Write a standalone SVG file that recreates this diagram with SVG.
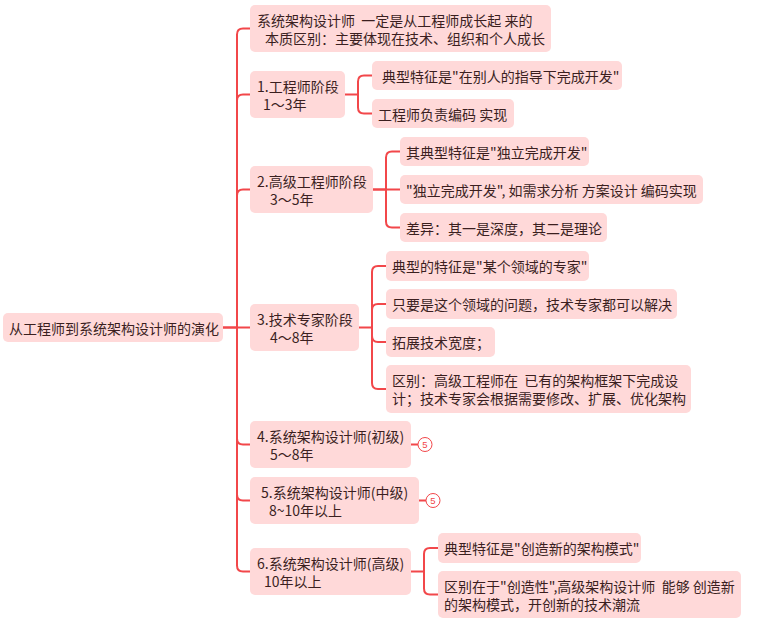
<svg xmlns="http://www.w3.org/2000/svg" width="758" height="625" viewBox="0 0 758 625">
<style>
.box{fill:#ffd9d9;}
.t{font-family:"Noto Sans CJK SC","Liberation Sans",sans-serif;font-size:14px;fill:#3b1f1f;dominant-baseline:central;white-space:pre;}
.c{fill:none;stroke:#f2474a;stroke-width:2;stroke-linecap:round;}
.badge{fill:#fff;stroke:#f2474a;stroke-width:1;}
.bt{font-family:"Liberation Sans",sans-serif;font-size:9.5px;fill:#f2474a;text-anchor:middle;dominant-baseline:central;}
</style>
<rect width="758" height="625" fill="#fff"/>
<g id="connectors">
<path class="c" d="M223 327.5 H237 V34.5 Q237 28.5 243 28.5 H250"/>
<path class="c" d="M237 327.5 V100.5 Q237 94.5 243 94.5 H250"/>
<path class="c" d="M237 327.5 V195.5 Q237 189.5 243 189.5 H250"/>
<path class="c" d="M223 327.5 H250"/>
<path class="c" d="M237 327.5 V438.5 Q237 444.5 243 444.5 H250"/>
<path class="c" d="M237 327.5 V494.5 Q237 500.5 243 500.5 H250"/>
<path class="c" d="M237 327.5 V565.5 Q237 571.5 243 571.5 H250"/>
<path class="c" d="M345 94.5 H358 V81.5 Q358 75.5 364 75.5 H372"/>
<path class="c" d="M358 94.5 V107.5 Q358 113.5 364 113.5 H372"/>
<path class="c" d="M373 189.5 H386 V157.5 Q386 151.5 392 151.5 H400"/>
<path class="c" d="M373 189.5 H400"/>
<path class="c" d="M386 189.5 V221.5 Q386 227.5 392 227.5 H400"/>
<path class="c" d="M359 327.5 H372 V272 Q372 266 378 266 H386"/>
<path class="c" d="M372 327.5 V310 Q372 304 378 304 H386"/>
<path class="c" d="M372 327.5 V336 Q372 342 378 342 H386"/>
<path class="c" d="M372 327.5 V383 Q372 389 378 389 H386"/>
<path class="c" d="M411 571.5 H424 V554 Q424 548 430 548 H438"/>
<path class="c" d="M424 571.5 V588.5 Q424 594.5 430 594.5 H438"/>
<path class="c" d="M411 444.5 H418"/>
<path class="c" d="M419 500.5 H426"/>
</g>
<g id="root"><rect class="box" x="3" y="313" width="220" height="29" rx="5"/><text class="t" x="9" y="327.5">从工程师到系统架构设计师的演化</text></g>
<g id="b0"><rect class="box" x="250" y="5" width="301" height="47" rx="5"/><text class="t" xml:space="preserve"><tspan x="257" y="19.5">系统架构设计师  一定是从工程师成长起 来的</tspan><tspan x="265" y="37.5">本质区别：主要体现在技术、组织和个人成长</tspan></text></g>
<g id="b1"><rect class="box" x="250" y="71" width="95" height="47" rx="5"/><text class="t"><tspan x="257" y="85.5">1.工程师阶段</tspan><tspan x="263" y="103.5">1～3年</tspan></text></g>
<g id="c1a"><rect class="box" x="372" y="61" width="250" height="29" rx="5"/><text class="t" x="382" y="75.5">典型特征是"在别人的指导下完成开发"</text></g>
<g id="c1b"><rect class="box" x="372" y="99" width="142" height="29" rx="5"/><text class="t" x="378" y="113.5">工程师负责编码 实现</text></g>
<g id="b2"><rect class="box" x="250" y="166" width="123" height="47" rx="5"/><text class="t"><tspan x="257" y="180.5">2.高级工程师阶段</tspan><tspan x="270" y="198.5">3～5年</tspan></text></g>
<g id="c2a"><rect class="box" x="400" y="137" width="189" height="29" rx="5"/><text class="t" x="406" y="151.5">其典型特征是"独立完成开发"</text></g>
<g id="c2b"><rect class="box" x="400" y="175" width="303" height="29" rx="5"/><text class="t" x="406" y="189.5">"独立完成开发", 如需求分析 方案设计 编码实现</text></g>
<g id="c2c"><rect class="box" x="400" y="213" width="207" height="29" rx="5"/><text class="t" x="406" y="227.5">差异：其一是深度，其二是理论</text></g>
<g id="b3"><rect class="box" x="250" y="304" width="109" height="47" rx="5"/><text class="t"><tspan x="257" y="318.5">3.技术专家阶段</tspan><tspan x="270" y="336.5">4～8年</tspan></text></g>
<g id="c3a"><rect class="box" x="386" y="251" width="203" height="30" rx="5"/><text class="t" x="392" y="266">典型的特征是"某个领域的专家"</text></g>
<g id="c3b"><rect class="box" x="386" y="289" width="291" height="30" rx="5"/><text class="t" x="392" y="304">只要是这个领域的问题，技术专家都可以解决</text></g>
<g id="c3c"><rect class="box" x="386" y="327" width="109" height="30" rx="5"/><text class="t" x="392" y="342">拓展技术宽度；</text></g>
<g id="c3d"><rect class="box" x="386" y="365" width="305" height="48" rx="5"/><text class="t" xml:space="preserve"><tspan x="392" y="380">区别：高级工程师在  已有的架构框架下完成设</tspan><tspan x="392" y="398">计；技术专家会根据需要修改、扩展、优化架构</tspan></text></g>
<g id="b4"><rect class="box" x="250" y="421" width="161" height="47" rx="5"/><text class="t"><tspan x="257" y="435.5">4.系统架构设计师(初级)</tspan><tspan x="270" y="453.5">5～8年</tspan></text></g>
<g id="badge4"><circle class="badge" cx="425" cy="444.5" r="7"/><text class="bt" x="425" y="444.5">5</text></g>
<g id="b5"><rect class="box" x="250" y="477" width="169" height="47" rx="5"/><text class="t"><tspan x="261" y="491.5">5.系统架构设计师(中级)</tspan><tspan x="269" y="509.5">8~10年以上</tspan></text></g>
<g id="badge5"><circle class="badge" cx="433" cy="500.5" r="7"/><text class="bt" x="433" y="500.5">5</text></g>
<g id="b6"><rect class="box" x="250" y="548" width="161" height="47" rx="5"/><text class="t"><tspan x="257" y="562.5">6.系统架构设计师(高级)</tspan><tspan x="264" y="580.5">10年以上</tspan></text></g>
<g id="c6a"><rect class="box" x="438" y="533" width="203" height="30" rx="5"/><text class="t" x="444" y="548">典型特征是"创造新的架构模式"</text></g>
<g id="c6b"><rect class="box" x="438" y="571" width="303" height="47" rx="5"/><text class="t" xml:space="preserve"><tspan x="444" y="585.5">区别在于"创造性",高级架构设计师  能够 创造新</tspan><tspan x="444" y="603.5">的架构模式，开创新的技术潮流</tspan></text></g>
</svg>
